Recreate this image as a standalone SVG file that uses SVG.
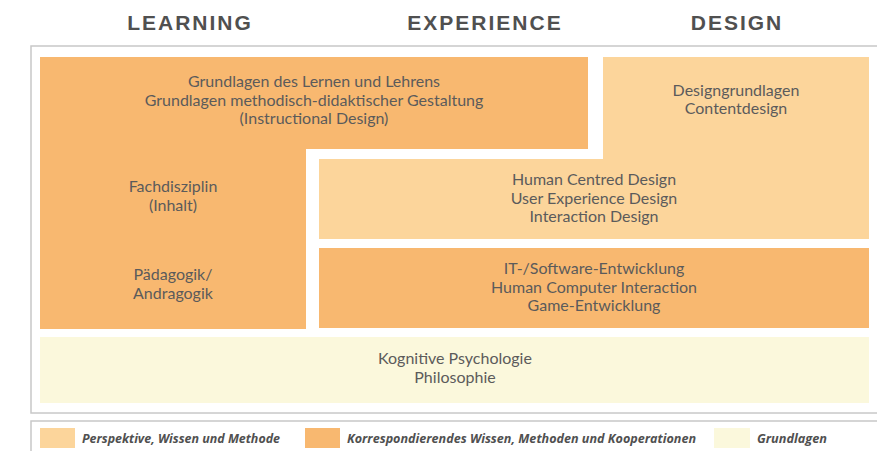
<svg xmlns="http://www.w3.org/2000/svg" width="877" height="451" viewBox="0 0 877 451">
<style>
.t{font-family:Lato,"Open Sans","Liberation Sans",sans-serif;font-size:16px;fill:#5b5b5b;text-anchor:middle}
.h{font-family:"Liberation Sans",Arial,sans-serif;font-size:21px;font-weight:bold;fill:#505050;text-anchor:middle;letter-spacing:2px}
.l{font-family:"Open Sans","Liberation Sans",sans-serif;font-size:12px;font-weight:bold;font-style:italic;fill:#505050}
.d{fill:#F8B870}
.p{fill:#FCD59B}
.y{fill:#FBF8DC}
.f{fill:#fff;stroke:#c8c8c8;stroke-width:1.5}
</style>
<rect width="877" height="451" fill="#fff"/>
<g id="titles">
<text class="h" x="190" y="30">LEARNING</text>
<text class="h" x="485" y="30">EXPERIENCE</text>
<text class="h" x="737" y="30">DESIGN</text>
</g>
<rect class="f" x="31" y="46" width="850" height="367"/>
<g id="learning-top">
<rect class="d" x="40" y="57" width="548" height="92"/>
<text class="t" x="314" y="87">Grundlagen des Lernen und Lehrens</text>
<text class="t" x="314" y="105.5">Grundlagen methodisch-didaktischer Gestaltung</text>
<text class="t" x="314" y="124">(Instructional Design)</text>
</g>
<g id="learning-left">
<rect class="d" x="40" y="148" width="266" height="181"/>
<text class="t" x="173" y="192">Fachdisziplin</text>
<text class="t" x="173" y="211">(Inhalt)</text>
<text class="t" x="173" y="280">Pädagogik/</text>
<text class="t" x="173" y="298.5">Andragogik</text>
</g>
<g id="design">
<rect class="p" x="603" y="57" width="266" height="103"/>
<text class="t" x="736" y="96">Designgrundlagen</text>
<text class="t" x="736" y="114">Contentdesign</text>
</g>
<g id="hcd">
<rect class="p" x="319" y="159" width="550" height="80"/>
<text class="t" x="594" y="185">Human Centred Design</text>
<text class="t" x="594" y="203.5">User Experience Design</text>
<text class="t" x="594" y="222">Interaction Design</text>
</g>
<g id="it">
<rect class="d" x="319" y="248" width="550" height="80"/>
<text class="t" x="594" y="274">IT-/Software-Entwicklung</text>
<text class="t" x="594" y="292.5">Human Computer Interaction</text>
<text class="t" x="594" y="311">Game-Entwicklung</text>
</g>
<g id="grundlagen">
<rect class="y" x="40" y="337" width="829" height="66"/>
<text class="t" x="455" y="364">Kognitive Psychologie</text>
<text class="t" x="455" y="383">Philosophie</text>
</g>
<g id="legend">
<rect class="f" x="31" y="421" width="850" height="40"/>
<rect class="p" x="40" y="428" width="35" height="20"/>
<text class="l" x="82" y="443" textLength="198" lengthAdjust="spacingAndGlyphs">Perspektive, Wissen und Methode</text>
<rect class="d" x="305" y="428" width="35" height="20"/>
<text class="l" x="347" y="443" textLength="349" lengthAdjust="spacingAndGlyphs">Korrespondierendes Wissen, Methoden und Kooperationen</text>
<rect class="y" x="714" y="428" width="36" height="20"/>
<text class="l" x="757" y="443" textLength="70" lengthAdjust="spacingAndGlyphs">Grundlagen</text>
</g>
</svg>
